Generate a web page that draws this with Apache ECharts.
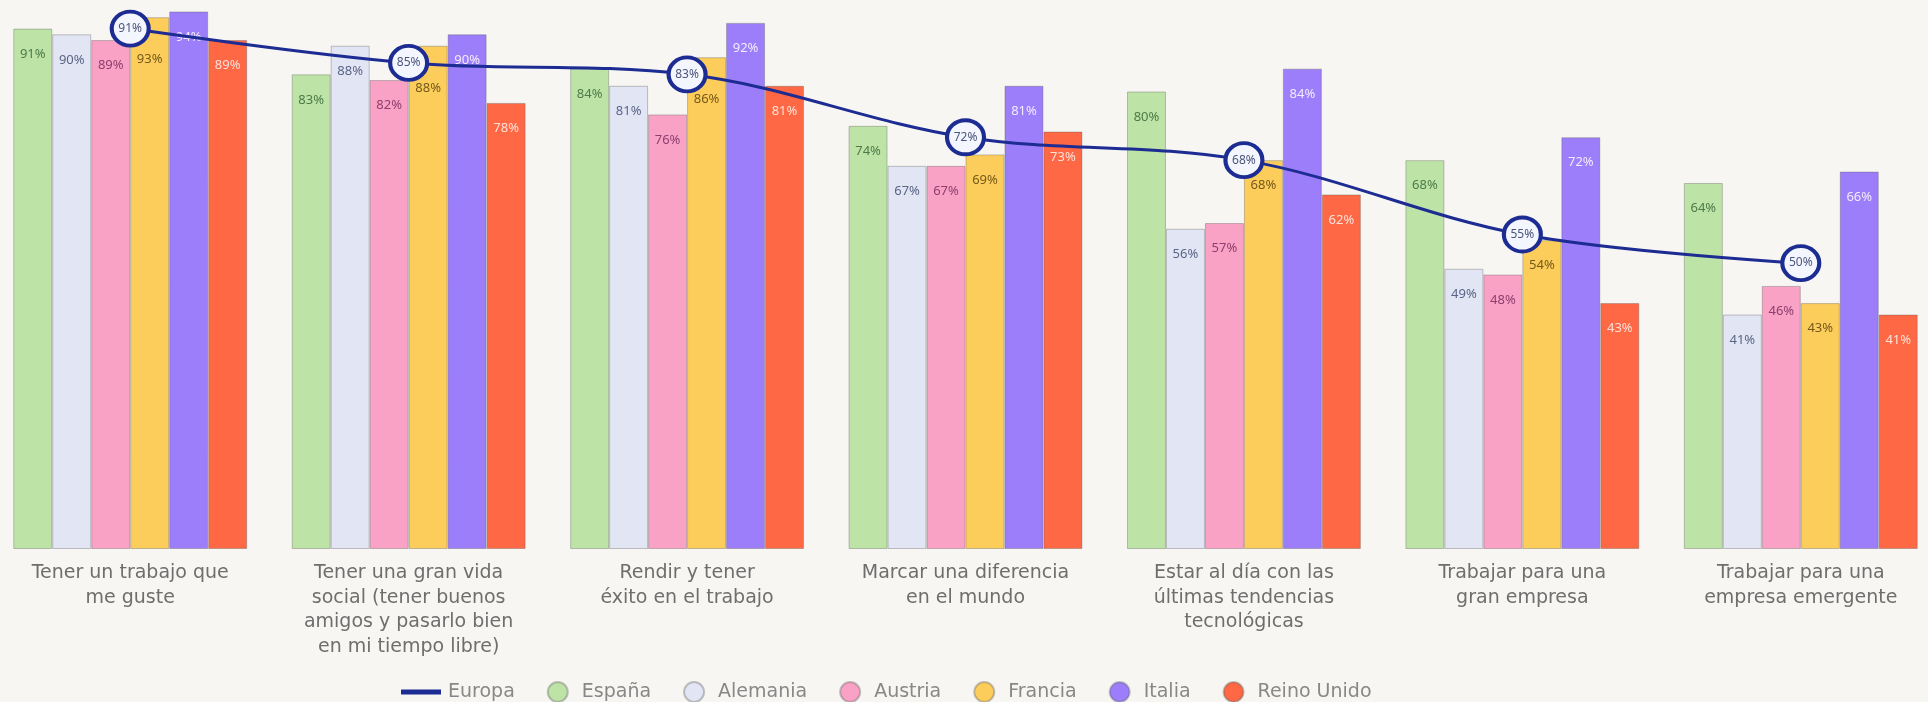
<!DOCTYPE html>
<html>
<head>
<meta charset="utf-8">
<script src="https://cdn.jsdelivr.net/npm/echarts@6/dist/echarts.min.js"></script>
<style>
html,body{margin:0;padding:0;background:#f7f6f2;}
#chart{width:1928px;height:702px;}
</style>
</head>
<body>
<div id="chart"></div>
<script>
const categories = [
  "Tener un trabajo que\nme guste",
  "Tener una gran vida\nsocial (tener buenos\namigos y pasarlo bien\nen mi tiempo libre)",
  "Rendir y tener\néxito en el trabajo",
  "Marcar una diferencia\nen el mundo",
  "Estar al día con las\núltimas tendencias\ntecnológicas",
  "Trabajar para una\ngran empresa",
  "Trabajar para una\nempresa emergente"
];
const europa    = [91, 85, 83, 72, 68, 55, 50];
const espana    = [91, 83, 84, 74, 80, 68, 64];
const alemania  = [90, 88, 81, 67, 56, 49, 41];
const austria   = [89, 82, 76, 67, 57, 48, 46];
const francia   = [93, 88, 86, 69, 68, 54, 43];
const italia    = [94, 90, 92, 81, 84, 72, 66];
const reinoUnido= [89, 78, 81, 73, 62, 43, 41];

const barDefs = [
  {name: "España", data: espana, color: "#bde4a6", label: "#4d7a4a"},
  {name: "Alemania", data: alemania, color: "#e2e6f4", label: "#5a6587"},
  {name: "Austria", data: austria, color: "#f9a2c5", label: "#8e3f6e"},
  {name: "Francia", data: francia, color: "#fdcd5c", label: "#75591a", avoid: true},
  {name: "Italia", data: italia, color: "#9c7efb", label: "#f1ebff"},
  {name: "Reino Unido", data: reinoUnido, color: "#ff6845", label: "#ffe1d8"}
];

const chart = echarts.init(document.getElementById('chart'));
const series = barDefs.map(d => {
  // labels that would sit under the Europa marker are pushed lower in the bar
  const data = d.avoid
    ? d.data.map((v, i) => (v - europa[i] >= 1 && v - europa[i] <= 6) ? {value: v, label: {distance: 36}} : v)
    : d.data;
  return {
    name: d.name,
    type: 'bar',
    data: data,
    barGap: '0%',
    barCategoryGap: '16%',
    itemStyle: {color: d.color, borderColor: 'rgba(90,90,90,0.35)', borderWidth: 1},
    label: {
      show: true, position: 'insideTop', distance: 19,
      formatter: '{c}%', color: d.label, fontSize: 13,
      fontFamily: 'Noto Sans'
    },
    z: 2
  };
});
series.push({
  name: 'Europa',
  type: 'line',
  data: europa,
  smooth: 0.35,
  symbol: 'circle',
  symbolSize: [37, 34],
  lineStyle: {color: '#1c2c92', width: 3},
  itemStyle: {color: '#f4f6ff', borderColor: '#1c2c92', borderWidth: 4},
  label: {show: true, position: 'inside', formatter: '{c}%', color: '#4a5578', fontSize: 12, fontFamily: 'Noto Sans'},
  z: 5
});

const legendData = [
  {name: 'Europa', icon: 'path://M0,0 L0,0 M0,8.5 L38,8.5 L38,11.5 L0,11.5 Z M38,20 L38,20', itemStyle: {color: '#1c2c92'}, textStyle: {padding: [0,0,0,3]}}
].concat(barDefs.map(d => ({name: d.name, icon: 'circle'})));

chart.setOption({
  backgroundColor: '#f7f6f2',
  animation: false,
  color: barDefs.map(d => d.color),
  grid: {left: -9, right: -12, top: 0, bottom: 153, outerBoundsMode: 'none', containLabel: false},
  legend: {
    data: legendData,
    left: 396, top: 676,
    itemWidth: 38, itemHeight: 20, itemGap: 32,
    selectedMode: false,
    textStyle: {color: '#888888', fontSize: 19, fontFamily: 'DejaVu Sans'}
  },
  xAxis: {
    type: 'category',
    data: categories,
    axisLine: {show: false},
    axisTick: {show: false},
    axisLabel: {
      interval: 0, margin: 12, color: '#6e6e6e', fontSize: 19,
      lineHeight: 24.5, fontFamily: 'DejaVu Sans', align: 'center'
    }
  },
  yAxis: {
    type: 'value', min: 0, max: 96,
    show: false,
    splitLine: {show: false}
  },
  series: series
});
</script>
</body>
</html>
